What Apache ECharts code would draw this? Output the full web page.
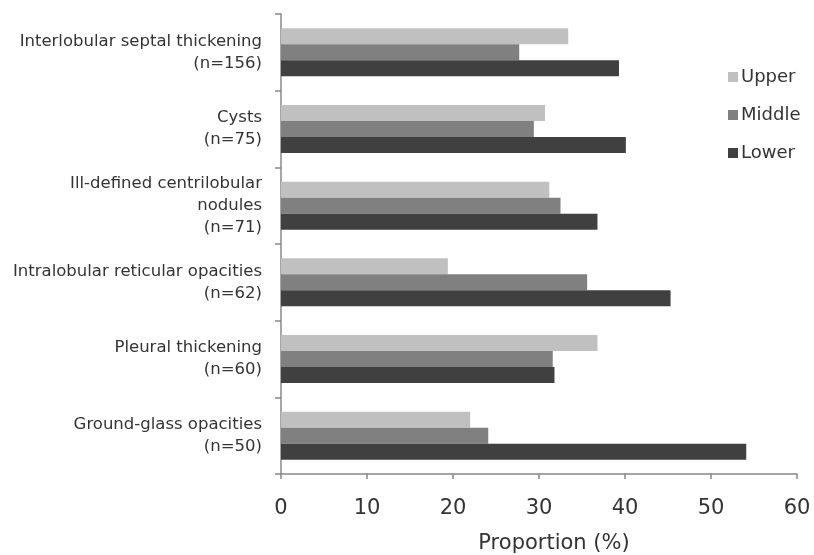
<!DOCTYPE html>
<html>
<head>
<meta charset="utf-8">
<script src="https://cdn.jsdelivr.net/npm/echarts@6/dist/echarts.min.js"></script>
<style>
html,body{margin:0;padding:0;background:#fff;}
#chart{width:814px;height:555px;}
</style>
</head>
<body>
<div id="chart"></div>
<script>
var categories = [
  "Interlobular septal thickening\n(n=156)",
  "Cysts\n(n=75)",
  "Ill-defined centrilobular\nnodules\n(n=71)",
  "Intralobular reticular opacities\n(n=62)",
  "Pleural thickening\n(n=60)",
  "Ground-glass opacities\n(n=50)"
];
var seriesNames = ["Upper", "Middle", "Lower"];
var upperValues = [33.4, 30.7, 31.2, 19.4, 36.8, 22.0];
var middleValues = [27.7, 29.4, 32.5, 35.6, 31.6, 24.1];
var lowerValues = [39.3, 40.1, 36.8, 45.3, 31.8, 54.1];
var xTicks = { min: 0, max: 60, interval: 10 };
var axisName = "Proportion (%)";

var colors = ["#c0c0c0", "#808080", "#404040"];
var valueSets = [upperValues, middleValues, lowerValues];

var chart = echarts.init(document.getElementById('chart'), null, {renderer: 'canvas'});
chart.setOption({
  backgroundColor: '#ffffff',
  animation: false,
  grid: { left: 281, right: 17, top: 14, bottom: 81, containLabel: false, outerBoundsMode: 'none' },
  legend: {
    orient: 'vertical',
    left: 723,
    top: 63,
    itemWidth: 10,
    itemHeight: 10,
    itemGap: 20,
    icon: 'rect',
    textStyle: { fontFamily: 'DejaVu Sans', fontSize: 18, color: '#333', lineHeight: 18, padding: [0,0,0,-2] },
    data: seriesNames
  },
  xAxis: {
    type: 'value',
    min: xTicks.min,
    max: xTicks.max,
    interval: xTicks.interval,
    name: axisName,
    nameLocation: 'middle',
    nameGap: 59,
    nameTextStyle: { fontFamily: 'DejaVu Sans', fontSize: 21, color: '#333', padding: [0, 0, 0, 30] },
    axisLine: { show: true, lineStyle: { color: '#888', width: 1.5 } },
    axisTick: { show: true, length: 5, lineStyle: { color: '#888', width: 1.5 } },
    axisLabel: { margin: 24, fontFamily: 'DejaVu Sans', fontSize: 21, color: '#333' },
    splitLine: { show: false }
  },
  yAxis: {
    type: 'category',
    inverse: true,
    data: categories,
    axisLine: { show: true, lineStyle: { color: '#888', width: 1.5 } },
    axisTick: { show: true, length: 6, inside: false, lineStyle: { color: '#888', width: 1.5 } },
    axisLabel: { margin: 19, fontFamily: 'DejaVu Sans', fontSize: 16.5, color: '#333', lineHeight: 22, align: 'right' },
    splitLine: { show: false }
  },
  series: seriesNames.map(function (name, i) {
    return {
      name: name,
      type: 'bar',
      data: valueSets[i],
      barWidth: 16,
      barGap: '0%',
      itemStyle: { color: colors[i] }
    };
  })
});
</script>
</body>
</html>
